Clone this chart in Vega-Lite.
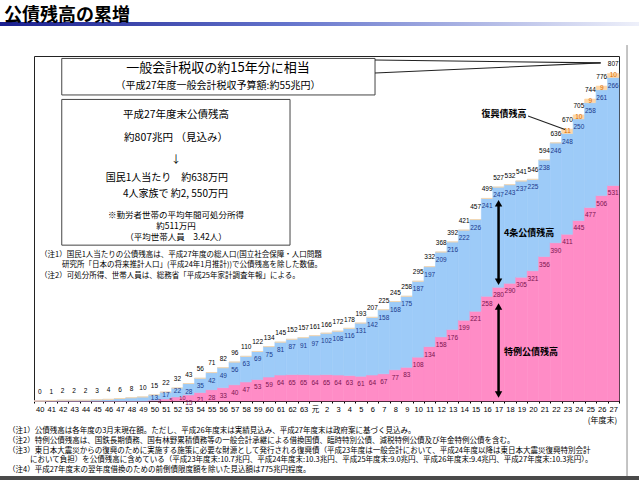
{
  "$schema": "https://vega.github.io/schema/vega-lite/v6.json",
  "width": 585,
  "height": 345,
  "autosize": {"type": "none"},
  "padding": {"left": 34, "top": 56, "right": 20, "bottom": 79},
  "title": {
    "text": "公債残高の累増",
    "anchor": "start",
    "frame": "group",
    "font": "Noto Sans CJK JP",
    "fontSize": 18,
    "fontWeight": "bold",
    "color": "#000000",
    "dx": -30,
    "offset": -3
  },
  "datasets": {
    "debt": [
      {"yr": "40", "total": 0, "k": 0, "t": 0, "f": 0},
      {"yr": "41", "total": 1, "k": 1, "t": 0, "f": 0},
      {"yr": "42", "total": 2, "k": 2, "t": 0, "f": 0},
      {"yr": "43", "total": 2, "k": 2, "t": 0, "f": 0},
      {"yr": "44", "total": 2, "k": 2, "t": 0, "f": 0},
      {"yr": "45", "total": 3, "k": 3, "t": 0, "f": 0},
      {"yr": "46", "total": 4, "k": 4, "t": 0, "f": 0},
      {"yr": "47", "total": 6, "k": 6, "t": 0, "f": 0},
      {"yr": "48", "total": 8, "k": 8, "t": 0, "f": 0},
      {"yr": "49", "total": 10, "k": 10, "t": 0, "f": 0},
      {"yr": "50", "total": 15, "k": 13, "t": 2, "f": 0},
      {"yr": "51", "total": 22, "k": 17, "t": 5, "f": 0},
      {"yr": "52", "total": 32, "k": 22, "t": 10, "f": 0},
      {"yr": "53", "total": 43, "k": 28, "t": 15, "f": 0},
      {"yr": "54", "total": 56, "k": 35, "t": 21, "f": 0},
      {"yr": "55", "total": 71, "k": 42, "t": 28, "f": 0},
      {"yr": "56", "total": 82, "k": 49, "t": 33, "f": 0},
      {"yr": "57", "total": 96, "k": 56, "t": 40, "f": 0},
      {"yr": "58", "total": 110, "k": 63, "t": 47, "f": 0},
      {"yr": "59", "total": 122, "k": 69, "t": 53, "f": 0},
      {"yr": "60", "total": 134, "k": 75, "t": 59, "f": 0},
      {"yr": "61", "total": 145, "k": 81, "t": 64, "f": 0},
      {"yr": "62", "total": 152, "k": 87, "t": 65, "f": 0},
      {"yr": "63", "total": 157, "k": 91, "t": 65, "f": 0},
      {"yr": "元", "total": 161, "k": 97, "t": 64, "f": 0},
      {"yr": "2", "total": 166, "k": 102, "t": 65, "f": 0},
      {"yr": "3", "total": 172, "k": 108, "t": 64, "f": 0},
      {"yr": "4", "total": 178, "k": 116, "t": 63, "f": 0},
      {"yr": "5", "total": 193, "k": 131, "t": 61, "f": 0},
      {"yr": "6", "total": 207, "k": 142, "t": 64, "f": 0},
      {"yr": "7", "total": 225, "k": 158, "t": 67, "f": 0},
      {"yr": "8", "total": 245, "k": 168, "t": 77, "f": 0},
      {"yr": "9", "total": 258, "k": 175, "t": 83, "f": 0},
      {"yr": "10", "total": 295, "k": 187, "t": 108, "f": 0},
      {"yr": "11", "total": 332, "k": 197, "t": 134, "f": 0},
      {"yr": "12", "total": 368, "k": 209, "t": 158, "f": 0},
      {"yr": "13", "total": 392, "k": 216, "t": 176, "f": 0},
      {"yr": "14", "total": 421, "k": 222, "t": 199, "f": 0},
      {"yr": "15", "total": 457, "k": 226, "t": 221, "f": 0},
      {"yr": "16", "total": 499, "k": 241, "t": 258, "f": 0},
      {"yr": "17", "total": 527, "k": 247, "t": 280, "f": 0},
      {"yr": "18", "total": 532, "k": 243, "t": 290, "f": 0},
      {"yr": "19", "total": 541, "k": 237, "t": 305, "f": 0},
      {"yr": "20", "total": 546, "k": 225, "t": 321, "f": 0},
      {"yr": "21", "total": 594, "k": 238, "t": 356, "f": 0},
      {"yr": "22", "total": 636, "k": 246, "t": 390, "f": 0},
      {"yr": "23", "total": 670, "k": 248, "t": 411, "f": 11},
      {"yr": "24", "total": 705, "k": 250, "t": 445, "f": 10},
      {"yr": "25", "total": 744, "k": 258, "t": 477, "f": 9},
      {"yr": "26", "total": 776, "k": 261, "t": 506, "f": 9},
      {"yr": "27", "total": 807, "k": 266, "t": 531, "f": 10}
    ],
    "banner": [{"ax": -2.964, "ay": 934, "ax2": 52.75, "ay2": 924}],
    "bottomBar": [{"ax": -2.964, "ay": -185, "ax2": 52.75, "ay2": -195}],
    "slideBorder": [{"ax": 51.7, "ay": 877, "ax2": 51.7, "ay2": -185}],
    "boxes": [
      {"ax": 2.42, "ay": 844, "ax2": 29.73, "ay2": 754},
      {"ax": 2.42, "ay": 743, "ax2": 22.32, "ay2": 384}
    ],
    "thinLines": [
      {"ax": 29.73, "ay": 840, "ax2": 49.4, "ay2": 833},
      {"ax": 29.73, "ay": 808, "ax2": 49.4, "ay2": 833},
      {"ax": 43.07, "ay": 702, "ax2": 46.29, "ay2": 669}
    ],
    "shafts": [
      {"ax": 40.5, "ay": 487, "ax2": 40.5, "ay2": 294},
      {"ax": 40.5, "ay": 233, "ax2": 40.5, "ay2": 16}
    ],
    "headsUp": [{"ax": 40.5, "ay": 487}, {"ax": 40.5, "ay": 233}],
    "headsDown": [{"ax": 40.5, "ay": 294}, {"ax": 40.5, "ay": 16}],
    "boxTitle": [{"ax": 16.04, "ay": 820, "txt": "一般会計税収の約15年分に相当"}],
    "center10": [{"ax": 16.04, "ay": 776, "txt": "（平成27年度一般会計税収予算額:約55兆円）"}],
    "center11": [
      {"ax": 12.38, "ay": 705, "txt": "平成27年度末公債残高"},
      {"ax": 12.38, "ay": 648, "txt": "約807兆円 （見込み）"},
      {"ax": 12.38, "ay": 594, "txt": "↓"}
    ],
    "right10": [
      {"ax": 16.91, "ay": 549, "txt": "国民1人当たり　約638万円"},
      {"ax": 16.91, "ay": 510, "txt": "4人家族で 約2, 550万円"}
    ],
    "center9": [
      {"ax": 12.38, "ay": 459, "txt": "※勤労者世帯の平均年間可処分所得"},
      {"ax": 12.38, "ay": 432, "txt": "約511万円"},
      {"ax": 12.38, "ay": 405, "txt": "（平均世帯人員　3.42人）"}
    ],
    "notes": [
      {"ax": 0.52, "ay": 360, "txt": "（注1）国民1人当たりの公債残高は、平成27年度の総人口(国立社会保障・人口問題"},
      {"ax": 2.44, "ay": 334, "txt": "研究所「日本の将来推計人口」(平成24年1月推計))で公債残高を除した数値。"},
      {"ax": 0.52, "ay": 308, "txt": "（注2）可処分所得、世帯人員は、総務省「平成25年家計調査年報」による。"},
      {"ax": -2.267, "ay": -74, "txt": "（注1）公債残高は各年度の3月末現在額。ただし、平成26年度末は実績見込み、平成27年度末は政府案に基づく見込み。"},
      {"ax": -2.267, "ay": -98.5, "txt": "（注2）特例公債残高は、国鉄長期債務、国有林野累積債務等の一般会計承継による借換国債、臨時特別公債、減税特例公債及び年金特例公債を含む。"},
      {"ax": -2.267, "ay": -122, "txt": "（注3）東日本大震災からの復興のために実施する施策に必要な財源として発行される復興債（平成23年度は一般会計において、平成24年度以降は東日本大震災復興特別会計"},
      {"ax": -0.349, "ay": -145.4, "txt": "において負担）を公債残高に含めている（平成23年度末:10.7兆円、平成24年度末:10.3兆円、平成25年度末:9.0兆円、平成26年度末:9.4兆円、平成27年度末:10.3兆円）。"},
      {"ax": -2.267, "ay": -168.8, "txt": "（注4）平成27年度末の翌年度借換のための前倒債限度額を除いた見込額は775兆円程度。"}
    ],
    "boldLabels": [
      {"ax": 40.98, "ay": 707, "txt": "復興債残高"},
      {"ax": 43.16, "ay": 414, "txt": "4条公債残高"},
      {"ax": 43.33, "ay": 121.5, "txt": "特例公債残高"}
    ]
  },
  "layer": [
    {
      "data": {"name": "debt"},
      "encoding": {
        "x": {
          "field": "yr",
          "type": "ordinal",
          "scale": {
            "domain": ["40","41","42","43","44","45","46","47","48","49","50","51","52","53","54","55","56","57","58","59","60","61","62","63","元","2","3","4","5","6","7","8","9","10","11","12","13","14","15","16","17","18","19","20","21","22","23","24","25","26","27"],
            "paddingInner": 0,
            "paddingOuter": 0
          },
          "axis": {
            "title": "(年度末)",
            "labelAngle": 0,
            "labelFontSize": 7.5,
            "labelFont": "Liberation Sans, Noto Sans CJK JP",
            "labelColor": "#000000",
            "labelOverlap": false,
            "labelPadding": 2,
            "tickSize": 2,
            "tickBand": "extent",
            "tickColor": "#000000",
            "domainColor": "#000000",
            "grid": false,
            "titleFont": "Noto Sans CJK JP",
            "titleFontSize": 8,
            "titleFontWeight": "normal",
            "titleColor": "#000000",
            "titleX": 568,
            "titleY": 19,
            "titleAlign": "center",
            "titleBaseline": "middle"
          }
        }
      },
      "layer": [
        {
          "transform": [
            {"fold": ["t", "k", "f"], "as": ["key", "v"]},
            {"stack": "v", "groupby": ["yr"], "sort": [{"field": "key", "order": "descending"}], "as": ["v0", "v1"]}
          ],
          "mark": {"type": "bar", "strokeWidth": 0.6},
          "encoding": {
            "y": {
              "field": "v0",
              "type": "quantitative",
              "scale": {"domain": [0, 850], "nice": false},
              "axis": {
                "title": "(兆円)",
                "values": [0,50,100,150,200,250,300,350,400,450,500,550,600,650,700,750,800,850],
                "labelFont": "Liberation Sans",
                "labelFontSize": 9,
                "labelColor": "#000000",
                "labelPadding": 6,
                "tickSize": 3,
                "tickColor": "#000000",
                "domainColor": "#000000",
                "grid": false,
                "titleAngle": 0,
                "titleX": -17,
                "titleY": -11,
                "titleAlign": "center",
                "titleBaseline": "middle",
                "titleFont": "Noto Sans CJK JP",
                "titleFontSize": 8.5,
                "titleFontWeight": "normal",
                "titleColor": "#000000"
              }
            },
            "y2": {"field": "v1"},
            "color": {
              "field": "key",
              "type": "nominal",
              "scale": {"domain": ["t", "k", "f"], "range": ["#FF8CC6", "#9DCBF8", "#FFD6A6"]},
              "legend": null
            },
            "stroke": {
              "field": "key",
              "type": "nominal",
              "scale": {"domain": ["t", "k", "f"], "range": ["#FF8CC6", "#9DCBF8", "#FFD6A6"]},
              "legend": null
            }
          }
        },
        {
          "mark": {"type": "text", "font": "Liberation Sans", "fontSize": 6.5, "baseline": "middle", "dy": -9, "color": "#000000"},
          "encoding": {
            "y": {"field": "total", "type": "quantitative", "scale": {"domain": [0, 850], "nice": false}},
            "text": {"field": "total", "type": "quantitative"}
          }
        },
        {
          "transform": [
            {"fold": ["t", "k", "f"], "as": ["key", "v"]},
            {"stack": "v", "groupby": ["yr"], "sort": [{"field": "key", "order": "descending"}], "as": ["v0", "v1"]},
            {"filter": "datum.key == 'k' && datum.t > 0 && datum.v1 > 40"}
          ],
          "mark": {"type": "text", "font": "Liberation Sans", "fontSize": 6.5, "baseline": "middle", "dy": 8, "color": "#1B3A8C"},
          "encoding": {
            "y": {"field": "v1", "type": "quantitative", "scale": {"domain": [0, 850], "nice": false}},
            "text": {"field": "v", "type": "quantitative"}
          }
        },
        {
          "transform": [
            {"fold": ["t", "k", "f"], "as": ["key", "v"]},
            {"stack": "v", "groupby": ["yr"], "sort": [{"field": "key", "order": "descending"}], "as": ["v0", "v1"]},
            {"filter": "datum.key == 'k' && datum.t > 0 && datum.v1 <= 40"}
          ],
          "mark": {"type": "text", "font": "Liberation Sans", "fontSize": 6.5, "baseline": "middle", "dy": 3, "color": "#1B3A8C"},
          "encoding": {
            "y": {"field": "v1", "type": "quantitative", "scale": {"domain": [0, 850], "nice": false}},
            "text": {"field": "v", "type": "quantitative"}
          }
        },
        {
          "transform": [
            {"fold": ["t", "k", "f"], "as": ["key", "v"]},
            {"stack": "v", "groupby": ["yr"], "sort": [{"field": "key", "order": "descending"}], "as": ["v0", "v1"]},
            {"filter": "datum.key == 't' && datum.v > 12"}
          ],
          "mark": {"type": "text", "font": "Liberation Sans", "fontSize": 6.5, "baseline": "middle", "dy": 8, "color": "#7B1450"},
          "encoding": {
            "y": {"field": "v1", "type": "quantitative", "scale": {"domain": [0, 850], "nice": false}},
            "text": {"field": "v", "type": "quantitative"}
          }
        },
        {
          "transform": [
            {"fold": ["t", "k", "f"], "as": ["key", "v"]},
            {"stack": "v", "groupby": ["yr"], "sort": [{"field": "key", "order": "descending"}], "as": ["v0", "v1"]},
            {"filter": "datum.key == 't' && datum.v > 0 && datum.v <= 12"}
          ],
          "mark": {"type": "text", "font": "Liberation Sans", "fontSize": 5.5, "baseline": "middle", "dy": 1, "dx": 5, "color": "#7B1450"},
          "encoding": {
            "y": {"field": "v1", "type": "quantitative", "scale": {"domain": [0, 850], "nice": false}},
            "text": {"field": "v", "type": "quantitative"}
          }
        },
        {
          "transform": [
            {"fold": ["t", "k", "f"], "as": ["key", "v"]},
            {"stack": "v", "groupby": ["yr"], "sort": [{"field": "key", "order": "descending"}], "as": ["v0", "v1"]},
            {"filter": "datum.key == 'f' && datum.v > 0"}
          ],
          "mark": {"type": "text", "font": "Liberation Sans", "fontSize": 6.5, "baseline": "middle", "dy": 2, "color": "#D86A00"},
          "encoding": {
            "y": {"field": "v1", "type": "quantitative", "scale": {"domain": [0, 850], "nice": false}},
            "text": {"field": "v", "type": "quantitative"}
          }
        }
      ]
    },
    {
      "encoding": {
        "x": {"field": "ax", "type": "quantitative", "scale": {"domain": [0, 51], "nice": false, "zero": false}, "axis": null},
        "y": {"field": "ay", "type": "quantitative", "scale": {"domain": [0, 850], "nice": false}, "axis": null}
      },
      "layer": [
        {
          "data": {"name": "banner"},
          "mark": {"type": "rect", "fill": {"gradient": "linear", "x1": 0, "x2": 1, "y1": 0, "y2": 0, "stops": [{"offset": 0, "color": "#1A1F8F"}, {"offset": 0.45, "color": "#6474CC"}, {"offset": 1, "color": "#EEF0FA"}]}, "opacity": 1},
          "encoding": {"x2": {"field": "ax2"}, "y2": {"field": "ay2"}}
        },
        {
          "data": {"name": "bottomBar"},
          "mark": {"type": "rect", "color": "#4A4A4A"},
          "encoding": {"x2": {"field": "ax2"}, "y2": {"field": "ay2"}}
        },
        {
          "data": {"name": "slideBorder"},
          "mark": {"type": "rule", "color": "#8A8A8A", "strokeWidth": 1},
          "encoding": {"x2": {"field": "ax2"}, "y2": {"field": "ay2"}}
        },
        {
          "data": {"name": "boxes"},
          "mark": {"type": "rect", "fill": "#FFFFFF", "stroke": "#444444", "strokeWidth": 1},
          "encoding": {"x2": {"field": "ax2"}, "y2": {"field": "ay2"}}
        },
        {
          "data": {"name": "thinLines"},
          "mark": {"type": "rule", "color": "#222222", "strokeWidth": 1.1},
          "encoding": {"x2": {"field": "ax2"}, "y2": {"field": "ay2"}}
        },
        {
          "data": {"name": "shafts"},
          "mark": {"type": "rule", "color": "#000000", "strokeWidth": 2.5},
          "encoding": {"x2": {"field": "ax2"}, "y2": {"field": "ay2"}}
        },
        {
          "data": {"name": "headsUp"},
          "mark": {"type": "point", "shape": "triangle-up", "filled": true, "color": "#000000", "size": 55, "opacity": 1}
        },
        {
          "data": {"name": "headsDown"},
          "mark": {"type": "point", "shape": "triangle-down", "filled": true, "color": "#000000", "size": 55, "opacity": 1}
        },
        {
          "data": {"name": "boxTitle"},
          "mark": {"type": "text", "font": "Noto Sans CJK JP", "fontSize": 13, "align": "center", "baseline": "middle", "color": "#000000"},
          "encoding": {"text": {"field": "txt"}}
        },
        {
          "data": {"name": "center10"},
          "mark": {"type": "text", "font": "Noto Sans CJK JP", "fontSize": 10, "align": "center", "baseline": "middle", "color": "#000000"},
          "encoding": {"text": {"field": "txt"}}
        },
        {
          "data": {"name": "center11"},
          "mark": {"type": "text", "font": "Noto Sans CJK JP", "fontSize": 10.5, "align": "center", "baseline": "middle", "color": "#000000"},
          "encoding": {"text": {"field": "txt"}}
        },
        {
          "data": {"name": "right10"},
          "mark": {"type": "text", "font": "Noto Sans CJK JP", "fontSize": 10, "align": "right", "baseline": "middle", "color": "#000000"},
          "encoding": {"text": {"field": "txt"}}
        },
        {
          "data": {"name": "center9"},
          "mark": {"type": "text", "font": "Noto Sans CJK JP", "fontSize": 8.5, "align": "center", "baseline": "middle", "color": "#000000"},
          "encoding": {"text": {"field": "txt"}}
        },
        {
          "data": {"name": "notes"},
          "mark": {"type": "text", "font": "Noto Sans CJK JP", "fontSize": 7.5, "align": "left", "baseline": "middle", "color": "#000000"},
          "encoding": {"text": {"field": "txt"}}
        },
        {
          "data": {"name": "boldLabels"},
          "mark": {"type": "text", "font": "Noto Sans CJK JP", "fontSize": 9, "fontWeight": "bold", "align": "center", "baseline": "middle", "color": "#000000"},
          "encoding": {"text": {"field": "txt"}}
        }
      ]
    }
  ],
  "resolve": {"scale": {"x": "independent"}},
  "config": {
    "view": {"stroke": "#222222", "strokeWidth": 1},
    "font": "Noto Sans CJK JP",
    "background": "#FFFFFF"
  }
}
